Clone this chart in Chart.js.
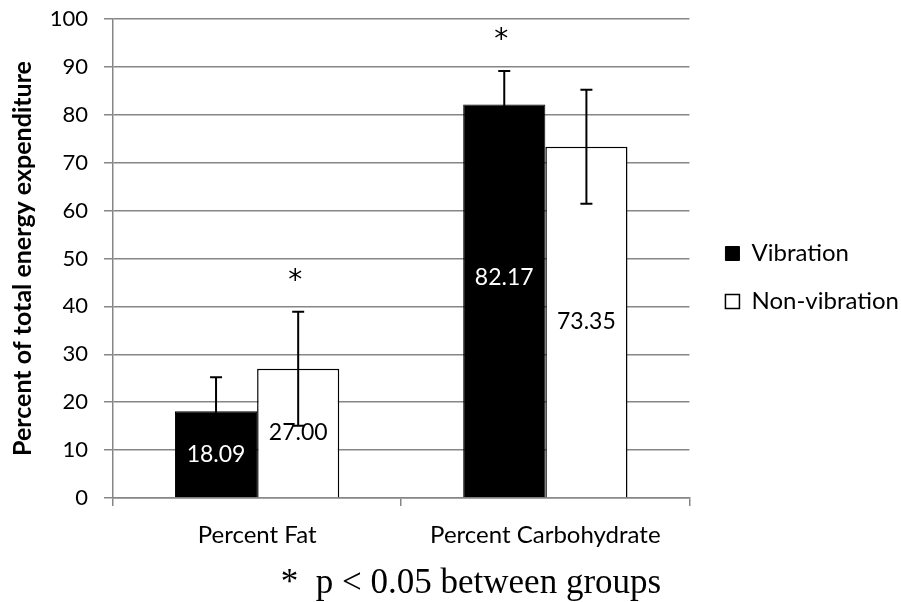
<!DOCTYPE html>
<html>
<head>
<meta charset="utf-8">
<script src="https://cdn.jsdelivr.net/npm/chart.js@4.4.1/dist/chart.umd.min.js"></script>
<style>
  html, body { margin: 0; padding: 0; background: #fff; }
</style>
</head>
<body>
<canvas id="chart" width="901" height="602"></canvas>
<script>
// data
let categories = ["Percent Fat", "Percent Carbohydrate"];
let vibration = [18.09, 82.17];
let nonVibration = [27.00, 73.35];
let vibrationSD = [7.1, 7.0];
let nonVibrationSD = [11.9, 11.9];
let vibrationStar = [false, true];
let nonVibrationStar = [true, false];
let yTicks = [0, 10, 20, 30, 40, 50, 60, 70, 80, 90, 100];
let footnote = "*  p < 0.05 between groups";

let sans = "Lato, 'Open Sans', sans-serif";
let gridGray = "#868686";

// error bars, value labels, significance stars and the footnote
let annotate = {
    id: "annotate",
    afterLayout(chart) {
        // Excel leaves a wider gap between plot and legend than Chart.js does
        chart.legend.left += 12;
        chart.legend.right += 12;
        chart.legend.top -= 6;
        chart.legend.bottom -= 6;
    },
    afterDatasetsDraw(chart) {
        let ctx = chart.ctx;
        let y = chart.scales.y;
        chart.data.datasets.forEach((ds, di) => {
            let meta = chart.getDatasetMeta(di);
            meta.data.forEach((bar, i) => {
                let v = ds.data[i];
                let sd = ds.sd[i];
                let x = bar.x;
                let top = y.getPixelForValue(v + sd);
                let bot = y.getPixelForValue(v - sd);

                // value label in the middle of the bar (Excel had one nudged up)
                ctx.save();
                ctx.font = "23px " + sans;
                ctx.fillStyle = ds.labelColor;
                ctx.textAlign = "center";
                ctx.textBaseline = "middle";
                ctx.fillText(v.toFixed(2), x, (bar.y + bar.base) / 2 - ds.labelLift[i]);
                ctx.restore();

                // error bar
                ctx.save();
                ctx.strokeStyle = "#000";
                ctx.lineWidth = 2;
                ctx.beginPath();
                ctx.moveTo(x, top); ctx.lineTo(x, bot);
                ctx.moveTo(x - 6, top); ctx.lineTo(x + 6, top);
                ctx.moveTo(x - 6, bot); ctx.lineTo(x + 6, bot);
                ctx.stroke();
                ctx.restore();

                if (ds.star[i]) {
                    ctx.save();
                    ctx.font = "28px 'DejaVu Sans', sans-serif";
                    ctx.fillStyle = "#000";
                    ctx.textAlign = "center";
                    ctx.textBaseline = "middle";
                    ctx.fillText("*", x - 3, top - 30);
                    ctx.restore();
                }
            });
        });

        ctx.save();
        ctx.font = "35px 'Liberation Serif', 'Times New Roman', serif";
        ctx.fillStyle = "#000";
        ctx.textAlign = "center";
        ctx.textBaseline = "middle";
        ctx.fillText(footnote, 471, 584);
        ctx.restore();
    }
};

let chart = new Chart(document.getElementById("chart"), {
    type: "bar",
    data: {
        labels: categories,
        datasets: [{
            label: "Vibration",
            data: vibration,
            sd: vibrationSD,
            star: vibrationStar,
            labelLift: [0, 23],
            labelColor: "#fff",
            backgroundColor: "#000",
            borderColor: "#000",
            borderWidth: 1
        }, {
            label: "Non-vibration",
            data: nonVibration,
            sd: nonVibrationSD,
            star: nonVibrationStar,
            labelLift: [0, 0],
            labelColor: "#000",
            backgroundColor: "#fff",
            borderColor: "#000",
            borderWidth: 1.5
        }]
    },
    options: {
        responsive: false,
        animation: false,
        categoryPercentage: 0.57,
        barPercentage: 1,
        layout: { padding: { left: 8, top: 19, right: 4, bottom: 54 } },
        plugins: {
            tooltip: { enabled: false },
            legend: {
                position: "right",
                align: "center",
                labels: {
                    color: "#000",
                    font: { family: sans, size: 24 },
                    boxWidth: 14,
                    boxHeight: 14,
                    padding: 24
                }
            }
        },
        scales: {
            x: {
                grid: {
                    offset: true,
                    drawOnChartArea: false,
                    tickLength: 8,
                    color: gridGray,
                    lineWidth: 1.5
                },
                border: { color: gridGray, width: 1.5 },
                ticks: { color: "#000", font: { family: sans, size: 24 }, padding: 15 },
                afterFit: s => { s.height = 50; }
            },
            y: {
                min: 0,
                max: 100,
                afterBuildTicks: s => { s.ticks = yTicks.map(v => ({ value: v })); },
                grid: { color: gridGray, lineWidth: 1.5, tickLength: 9 },
                border: { color: gridGray, width: 1.5 },
                ticks: { color: "#000", font: { family: sans, size: 22 }, padding: 16 },
                title: {
                    display: true,
                    text: "Percent of total energy expenditure",
                    color: "#000",
                    font: { family: sans, size: 25, weight: "bold" },
                    padding: 0
                },
                afterFit: s => {
                    s.width = 105;
                    s.paddingTop = 0;
                    s.paddingBottom = 0;
                }
            }
        }
    },
    plugins: [annotate]
});
</script>
</body>
</html>
